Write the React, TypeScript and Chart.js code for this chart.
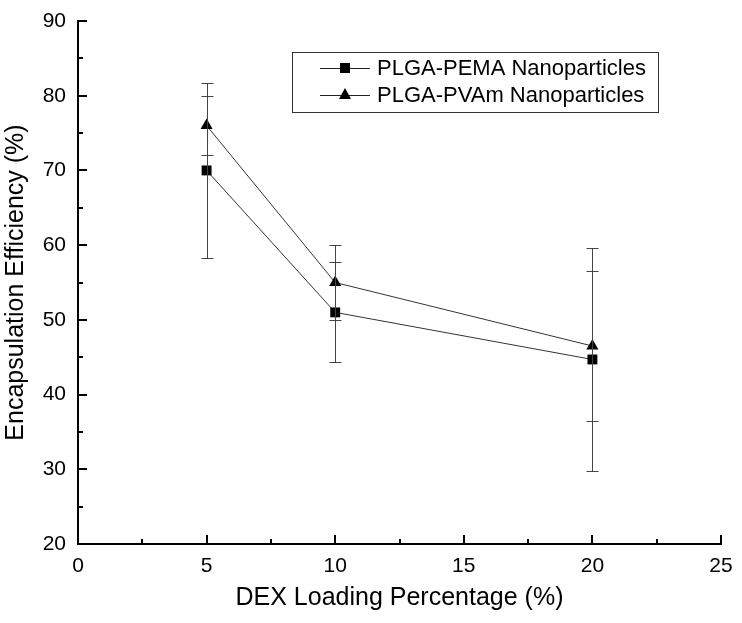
import React, { useEffect, useRef } from "react";
import { Chart, registerables } from "chart.js";

Chart.register(...registerables);

const xValues = [5, 10, 20];
const pemaLabel = "PLGA-PEMA Nanoparticles";
const pemaValues = [70, 51, 44.7];
const pemaErrors = [11.7, 6.7, 14.9];
const pvamLabel = "PLGA-PVAm Nanoparticles";
const pvamValues = [76, 55, 46.5];
const pvamErrors = [4, 5, 10];
const xTicks = [0, 5, 10, 15, 20, 25];
const yTicks = [20, 30, 40, 50, 60, 70, 80, 90];

const FONT = "Arial, 'Liberation Sans', sans-serif";

const errorBarPlugin = {
  id: "errorBars",
  afterDatasetsDraw(chart: any) {
    const ctx = chart.ctx;
    const xs = chart.scales.x;
    const ys = chart.scales.y;
    ctx.save();
    ctx.strokeStyle = "#444";
    ctx.lineWidth = 1;
    chart.data.datasets.forEach((ds: any) => {
      ds.data.forEach((p: any) => {
        const px = Math.round(xs.getPixelForValue(p.x)) + 0.5;
        const top = Math.round(ys.getPixelForValue(p.y + p.err)) + 0.5;
        const bot = Math.round(ys.getPixelForValue(p.y - p.err)) + 0.5;
        ctx.beginPath();
        ctx.moveTo(px, top);
        ctx.lineTo(px, bot);
        ctx.moveTo(px - 6, top);
        ctx.lineTo(px + 6, top);
        ctx.moveTo(px - 6, bot);
        ctx.lineTo(px + 6, bot);
        ctx.stroke();
      });
    });
    ctx.restore();
  },
};

const axisTicksPlugin = {
  id: "axisTicks",
  afterDraw(chart: any) {
    const ctx = chart.ctx;
    const xs = chart.scales.x;
    const ys = chart.scales.y;
    const area = chart.chartArea;
    ctx.save();
    ctx.strokeStyle = "#000";
    ctx.lineWidth = 2;
    ctx.beginPath();
    for (let v = 0; v <= 25; v += 2.5) {
      const px = Math.round(xs.getPixelForValue(v));
      const len = v % 5 === 0 ? 9 : 5;
      ctx.moveTo(px, area.bottom);
      ctx.lineTo(px, area.bottom - len);
    }
    for (let v = 20; v <= 90; v += 5) {
      const py = Math.round(ys.getPixelForValue(v));
      const len = v % 10 === 0 ? 9 : 5;
      ctx.moveTo(area.left, py);
      ctx.lineTo(area.left + len, py);
    }
    ctx.stroke();
    ctx.restore();
  },
};

const legendPlugin = {
  id: "customLegend",
  afterDraw(chart: any) {
    const ctx = chart.ctx;
    ctx.save();
    ctx.strokeStyle = "#333";
    ctx.lineWidth = 1;
    ctx.strokeRect(292.5, 52.5, 366, 60);
    const rows = [68, 95];
    chart.data.datasets.forEach((ds: any, i: number) => {
      const y = rows[i];
      ctx.strokeStyle = "#222";
      ctx.lineWidth = 1;
      ctx.beginPath();
      ctx.moveTo(320, y + 0.5);
      ctx.lineTo(370, y + 0.5);
      ctx.stroke();
      ctx.fillStyle = "#000";
      if (ds.pointStyle === "rect") {
        ctx.fillRect(340, y - 5, 10, 10);
      } else {
        ctx.beginPath();
        ctx.moveTo(345, y - 7);
        ctx.lineTo(351, y + 4);
        ctx.lineTo(339, y + 4);
        ctx.closePath();
        ctx.fill();
      }
      ctx.font = `22px ${FONT}`;
      ctx.textBaseline = "middle";
      ctx.textAlign = "left";
      ctx.fillText(ds.label, 377, y + 1);
    });
    ctx.restore();
  },
};

export default function App() {
  const canvasRef = useRef<HTMLCanvasElement | null>(null);

  useEffect(() => {
    if (!canvasRef.current) return;
    const chart = new Chart(canvasRef.current, {
      type: "scatter",
      data: {
        datasets: [
          {
            label: pemaLabel,
            data: xValues.map((x, i) => ({ x, y: pemaValues[i], err: pemaErrors[i] })),
            showLine: true,
            borderColor: "#333",
            borderWidth: 1,
            backgroundColor: "#000",
            pointBackgroundColor: "#000",
            pointBorderColor: "#000",
            pointBorderWidth: 0,
            pointStyle: "rect",
            pointRadius: 7,
          },
          {
            label: pvamLabel,
            data: xValues.map((x, i) => ({ x, y: pvamValues[i], err: pvamErrors[i] })),
            showLine: true,
            borderColor: "#333",
            borderWidth: 1,
            backgroundColor: "#000",
            pointBackgroundColor: "#000",
            pointBorderColor: "#000",
            pointBorderWidth: 0,
            pointStyle: "triangle",
            pointRadius: 7,
          },
        ],
      },
      options: {
        animation: false,
        responsive: false,
        layout: { padding: { top: 21, right: 21, left: 0, bottom: 0 } },
        plugins: {
          legend: { display: false },
          tooltip: { enabled: false },
        },
        scales: {
          x: {
            type: "linear",
            min: 0,
            max: 25,
            afterBuildTicks: (scale: any) => {
              scale.ticks = xTicks.map((v) => ({ value: v }));
            },
            afterFit: (scale: any) => {
              scale.height = 79;
              scale.paddingLeft = 0;
              scale.paddingRight = 0;
            },
            grid: { display: false, drawTicks: false },
            border: { display: true, color: "#000", width: 2 },
            ticks: {
              color: "#000",
              font: { family: FONT, size: 21 },
              padding: 10,
              maxRotation: 0,
            },
            title: {
              display: true,
              text: "DEX Loading Percentage (%)",
              color: "#000",
              font: { family: FONT, size: 25 },
              padding: { top: 4, bottom: 10 },
            },
          },
          y: {
            type: "linear",
            min: 20,
            max: 90,
            afterBuildTicks: (scale: any) => {
              scale.ticks = yTicks.map((v) => ({ value: v }));
            },
            afterFit: (scale: any) => {
              scale.width = 78;
              scale.paddingTop = 0;
              scale.paddingBottom = 0;
            },
            grid: { display: false, drawTicks: false },
            border: { display: true, color: "#000", width: 2 },
            ticks: {
              color: "#000",
              font: { family: FONT, size: 21 },
              padding: 12,
            },
            title: {
              display: true,
              text: "Encapsulation Efficiency (%)",
              color: "#000",
              font: { family: FONT, size: 25 },
              padding: { top: 1, bottom: 4 },
            },
          },
        },
      },
      plugins: [errorBarPlugin, axisTicksPlugin, legendPlugin],
    } as any);
    return () => chart.destroy();
  }, []);

  return (
    <div style={{ position: "absolute", left: 0, top: 0, width: 742, height: 623, background: "#fff" }}>
      <canvas ref={canvasRef} width={742} height={623} />
    </div>
  );
}
